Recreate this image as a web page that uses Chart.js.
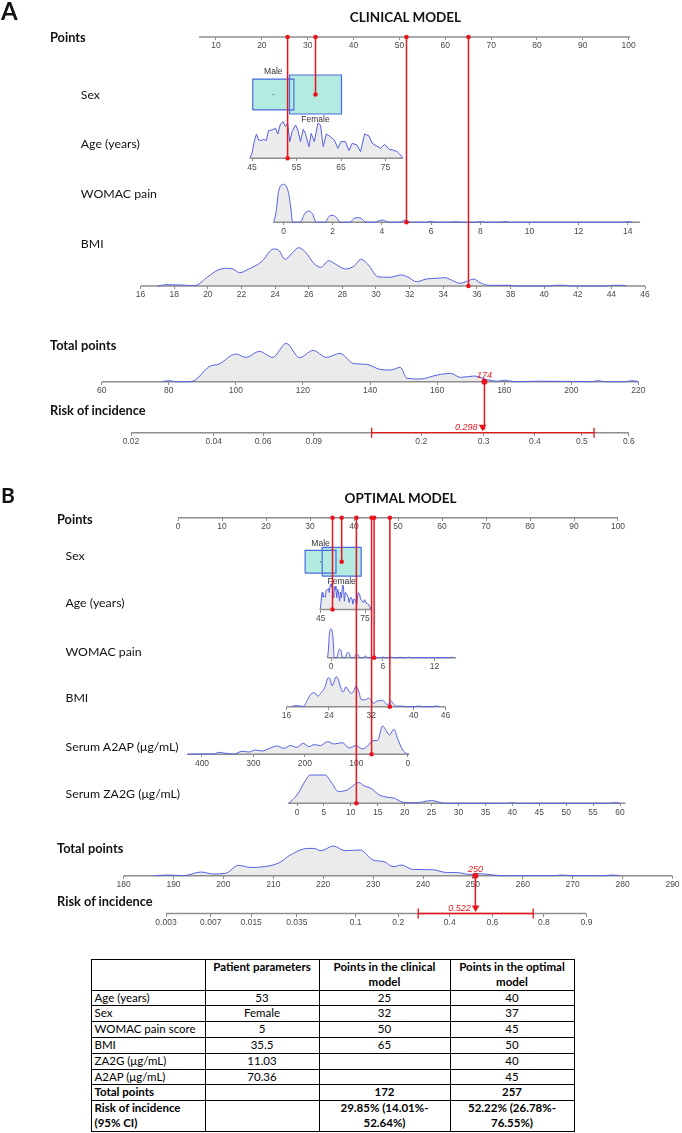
<!DOCTYPE html>
<html lang="en">
<head>
<meta charset="utf-8">
<title>Clinical and optimal model nomograms</title>
<style>
  body { margin: 0; background: #fff; font-family: Lato, 'Open Sans', sans-serif; color: #111; }
  #page { position: relative; width: 682px; height: 1133px; overflow: hidden; }
  #chartBox { position: absolute; left: 0; top: 0; width: 682px; height: 940px; }
  .lbl { position: absolute; white-space: nowrap; line-height: 1; transform: translateY(-50%); }
  .ctr { transform: translate(-50%, -50%); }
  #tbl { position: absolute; left: 90.5px; top: 959px; border-collapse: collapse; table-layout: fixed;
         font-size: 11.5px; color: #000; }
  #tbl td, #tbl th { border: 1px solid #000; padding: 0 3px; line-height: 14.8px; text-align: center; }
  #tbl th { font-weight: 700; vertical-align: top; }
  #tbl td:first-child { text-align: left; }
  #tbl tr.b td { font-weight: 700; }
</style>
</head>
<body>
<div id="page">
  <div id="chartBox"><canvas id="nomo" width="682" height="940"></canvas></div>
  <table id="tbl">
    <colgroup><col style="width:114px"><col style="width:114px"><col style="width:131px"><col style="width:124px"></colgroup>
    <tr><th></th><th>Patient parameters</th><th>Points in the clinical<br>model</th><th>Points in the optimal<br>model</th></tr>
    <tr><td>Age (years)</td><td>53</td><td>25</td><td>40</td></tr>
    <tr><td>Sex</td><td>Female</td><td>32</td><td>37</td></tr>
    <tr><td>WOMAC pain score</td><td>5</td><td>50</td><td>45</td></tr>
    <tr><td>BMI</td><td>35.5</td><td>65</td><td>50</td></tr>
    <tr><td>ZA2G (μg/mL)</td><td>11.03</td><td></td><td>40</td></tr>
    <tr><td>A2AP (μg/mL)</td><td>70.36</td><td></td><td>45</td></tr>
    <tr class="b"><td>Total points</td><td></td><td>172</td><td>257</td></tr>
    <tr class="b"><td>Risk of incidence<br>(95% CI)</td><td></td><td>29.85% (14.01%-<br>52.64%)</td><td>52.22% (26.78%-<br>76.55%)</td></tr>
  </table>
</div>
<script src="https://cdn.jsdelivr.net/npm/chart.js"></script>
<script>
// ---------- data ----------
const sexLabels = ['Male', 'Female'];
const sexShare = [0.385, 0.615];

const patientAge = 53, patientWomac = 5, patientBmi = 35.5, patientA2ap = 70.36, patientZa2g = 11.03;

// points given to the patient (age, sex, WOMAC, BMI [, A2AP, ZA2G])
const clinicalPoints = [25.7, 31.7, 51.7, 65];
const optimalPoints = [35.4, 37.2, 44.7, 48.4, 44.1, 40.7];
const sexPointsA = [22.5, 31.7];
const sexPointsB = [32.4, 37.2];
// predicted risk, lower and upper 95% CI
const clinicalRisk = [0.298, 0.1401, 0.5264];
const optimalRisk = [0.522, 0.2678, 0.7655];

// tick labels
const ptsTicksA = [10, 20, 30, 40, 50, 60, 70, 80, 90, 100];
const ptsTicksB = [0, 10, 20, 30, 40, 50, 60, 70, 80, 90, 100];
const ageTicksA = [45, 55, 65, 75];
const ageTicksB = [45, 75];
const womacTicksA = [0, 2, 4, 6, 8, 10, 12, 14];
const womacTicksB = [0, 6, 12];
const bmiTicksA = [16, 18, 20, 22, 24, 26, 28, 30, 32, 34, 36, 38, 40, 42, 44, 46];
const bmiTicksB = [16, 24, 32, 40, 46];
const a2apTicks = [400, 300, 200, 100, 0];
const za2gTicks = [0, 5, 10, 15, 20, 25, 30, 35, 40, 45, 50, 55, 60];
const totalTicksA = [60, 80, 100, 120, 140, 160, 180, 200, 220];
const totalTicksB = [180, 190, 200, 210, 220, 230, 240, 250, 260, 270, 280, 290];
const riskTicksA = [0.02, 0.04, 0.06, 0.09, 0.2, 0.3, 0.4, 0.5, 0.6];
const riskTicksB = [0.003, 0.007, 0.015, 0.035, 0.1, 0.2, 0.4, 0.6, 0.8, 0.9];

// axis extents
const ptsRangeA = [6.3, 100.3], ptsRangeB = [0, 100];
const ageRange = [44.6, 78.9];
const womacRange = [-0.4, 14.5];
const bmiRange = [16, 46];
const a2apRange = [-3, 428];
const za2gRange = [-1.7, 61];
const totalRangeA = [60, 220], totalRangeB = [180, 290];
const riskRangeA = [0.02, 0.6], riskRangeB = [0.003, 0.9];

// density curves (x, height)
const ageX = [44.5,45,45.5,46,46.5,47,47.6,48.2,48.7,49.5,50.3,50.8,51.4,52,52.5,53,53.5,54,54.8,55.3,55.9,56.5,57,57.8,58.3,59,59.8,60.4,61,61.7,62.6,63.5,64.3,65,66,66.8,67.5,68.6,69.4,70.3,71.3,72,73,73.9,74.8,75.8,76.7,77.6,78.4,78.9];
const ageD = [0,5,16.7,24.3,18.3,17.7,19,17.7,27.7,28.3,30,24.3,34.3,36.7,32,35,16.7,26.7,33.3,28.3,16.7,29,25,11.7,25,16.7,35,33.3,11.7,24.3,21.7,18.3,10,16.7,16.7,7.7,15,13.3,6.7,24.3,22.3,15,12.3,10,14,9,8.3,6.7,3.3,0];
const womacX = [-0.4,-0.3,-0.2,0,0.2,0.3,0.37,0.68,0.85,1.0,1.18,1.33,1.7,1.82,1.97,2.15,2.3,2.7,2.85,3.0,3.18,3.35,3.7,4.0,4.3,4.7,4.95,5.2,5.8,6.0,6.2,6.8,7.0,7.2,7.8,8.0,8.2,8.8,9.0,9.2,13.8,14.0,14.2];
const womacD = [0,10.7,30.7,38,30,14,0,0,8,11.3,8.5,0,0,5,7,5,0,0,3.5,4.7,3.5,0,0,2.3,0,0,2,0,0,1,0,0,0.7,0,0,0.8,0,0,0.8,0,0,0.7,0];
const bmiX = [17.0,17.5,18.5,19.2,20.0,20.6,21.1,21.5,21.9,22.4,23.2,23.9,24.2,24.6,25.0,25.4,25.8,26.3,26.7,27.2,27.6,28.2,28.7,29.1,29.6,30.1,30.8,31.5,31.9,32.4,33.0,33.6,34.1,34.6,35.0,35.6,35.8,36.2,36.7,38.0,38.3,40.4,40.6,41.3,41.5,43.8,44.0,44.7,44.9];
const bmiD = [0,1.3,1,0.3,9.3,16,17.7,17,13.3,16.7,24.3,37,36,26.7,32.7,38.3,34,22.7,18.7,25.3,21.7,17,20,26.7,20,9.3,8.7,11,9,4.3,7,7.7,8.3,5,2.7,6,7,3.3,0.7,0.7,0,0,0.7,0.7,0,0,0.7,0.7,0];
const a2apX = [-2,3,10,20,27,36,42,49,59,68,78,88,101,114,127,143,156,170,182,192,203,216,228,241,254,270,283,296,309,322,338,358,367,377,403,429];
const a2apD = [0,1,4.3,16,25,19.3,23.7,28.3,13.7,13.7,8.3,5.3,8.7,6.3,11.7,10.3,12.7,8.7,9.7,7.7,11,7,8.7,6,8.3,5.7,3.3,4.3,2.3,3,0.3,1.3,2,0.3,0.3,0];
const za2gX = [-1.5,0,1.6,2.4,5.2,6.5,7.7,9.3,11.5,12.5,13.7,15.3,16.9,18.1,19.7,22,25,27.5,39,40,41,58,59,60];
const za2gD = [0,8.3,23,28.3,28.3,20,11.7,13.3,20.7,17.3,15,8.3,6,5,1,0.5,2.7,0,0,0.5,0,0,0.7,0];
const totAX = [78,80,82,86,88,92,95,100,103,107,111,115,119,123,127,131,135,139,143,146,149,151,155,160,164,167,171,175,178,180,182,184,190,200,206,208,210,216,218,220];
const totAD = [0,1,0,0,2,15,17.7,27.7,24.3,30.3,24.3,38.3,24,31.3,24.3,28.3,18.3,17.3,12.3,11.7,14.3,3.3,2.7,6.7,8.3,4.3,5.7,2,0.5,1.5,0.5,0,0.5,0.3,0,1,0,0,1,0];
const totBX = [186,189,192,195.5,198,200.4,203,205.5,208.2,211.2,213.4,216.9,218.2,219.5,222.1,224.3,227.4,230,232.2,234,235.7,237.9,241.9,244.5,247.1,249.3,251.5,254.1,255.9,266,268,270,276,278,279.5];
const totBD = [0,0.7,0,3.7,1.7,2.3,10.3,8.3,9,13,20.7,27.3,27.3,25,29.7,25,25.7,15.7,14,9,10.7,6.3,6,3.3,3,1.3,2,0.7,0,0,0.7,0,0,0.7,0];

// ---------- layout (pixels) ----------
const W = 682, H = 940;
const RED = '#e8161c', BLUE = '#5560e4', AXIS = '#8e8e8e';
const tickFont = { family: "'Liberation Sans Narrow', 'Liberation Sans', Arial, sans-serif", size: 8.5 };

const logit = p => Math.log(p / (1 - p));
const sum = a => a.reduce((s, v) => s + v, 0);

const scales = {};
const datasets = [];

// y scale for one row: value 0 sits on the row baseline, peakVal is peakPx above it
function addRow(id, base, peakPx, peakVal) {
  const u = peakVal / peakPx;
  scales[id] = { type: 'linear', axis: 'y', display: false, bounds: 'data', min: (base - H) * u, max: base * u };
}

// x axis drawn on a row baseline, calibrated by two anchors [v1, px1, v2, px2]
function addAxis(id, yId, anchor, values, labels) {
  const [v1, p1, v2, p2] = anchor;
  const u = (v2 - v1) / (p2 - p1);
  const a = Math.abs(u);
  const reverse = u < 0;
  const min = reverse ? v1 + p1 * a - W * a : v1 - p1 * a;
  scales[id] = {
    type: 'linear', axis: 'x', position: { [yId]: 0 }, reverse, bounds: 'data',
    min, max: min + W * a,
    border: { display: false },
    grid: { drawOnChartArea: false, drawTicks: true, tickLength: 3, tickColor: AXIS, tickWidth: 1 },
    afterBuildTicks: s => { s.ticks = values.map(v => ({ value: v })); },
    ticks: { autoSkip: false, minRotation: 0, maxRotation: 0, padding: 1, color: '#4a4a4a', font: tickFont,
             callback: (v, i) => labels[i] }
  };
}

function axisLine(xId, yId, range) {
  datasets.push({ xAxisID: xId, yAxisID: yId, data: range.map(x => ({ x, y: 0 })),
    borderColor: AXIS, borderWidth: 1.6, fill: false, order: 5 });
}

function density(xId, yId, xs, ds, smooth) {
  datasets.push({ xAxisID: xId, yAxisID: yId, data: xs.map((x, i) => ({ x, y: ds[i] })),
    borderColor: BLUE, borderWidth: 1, backgroundColor: '#ebebeb', fill: 'origin',
    cubicInterpolationMode: smooth ? 'monotone' : 'default', tension: 0, order: 4 });
}

function sexBoxes(xId, yId, centers, boxW, boxH, pxPerPt) {
  sexShare.forEach((sh, i) => {
    const hw = boxW * Math.sqrt(sh) / 2 / pxPerPt, hh = boxH * Math.sqrt(sh) / 2, c = centers[i];
    datasets.push({ xAxisID: xId, yAxisID: yId, data: [{ x: c - hw, y: hh }, { x: c + hw, y: hh }],
      borderWidth: 0, borderColor: 'rgba(0,0,0,0)', backgroundColor: '#b3ebe1', fill: { value: -hh }, order: 3 });
    datasets.push({ xAxisID: xId, yAxisID: yId,
      data: [[-1, -1], [-1, 1], [1, 1], [1, -1], [-1, -1]].map(([sx, sy]) => ({ x: c + sx * hw, y: sy * hh })),
      borderColor: '#4a6ae2', borderWidth: 1.2, fill: false, order: 2 });
  });
}

// ---------- panel A: clinical model ----------
const ptsAnchorA = [10, 216, 100, 628.7];
addRow('yPtsA', 37, 1, 1);
addRow('ySexA', 94.5, 1, 1);
addRow('yAgeA', 158.3, 36.7, Math.max(...ageD));
addRow('yWomA', 222.3, 38, Math.max(...womacD));
addRow('yBmiA', 286, 38.3, Math.max(...bmiD));
addRow('yTotA', 381.7, 38.3, Math.max(...totAD));
addRow('yRiskA', 432.7, 1, 1);
addAxis('xPtsA', 'yPtsA', ptsAnchorA, ptsTicksA, ptsTicksA.map(String));
addAxis('xAgeA', 'yAgeA', [45, 252, 75, 385.5], ageTicksA, ageTicksA.map(String));
addAxis('xWomA', 'yWomA', [0, 283.5, 14, 627.8], womacTicksA, womacTicksA.map(String));
addAxis('xBmiA', 'yBmiA', [16, 140.6, 46, 645], bmiTicksA, bmiTicksA.map(String));
addAxis('xTotA', 'yTotA', [60, 101.7, 220, 638.4], totalTicksA, totalTicksA.map(String));
addAxis('xRiskA', 'yRiskA', [logit(0.02), 131, logit(0.6), 628.8], riskTicksA.map(logit), riskTicksA.map(String));

axisLine('xPtsA', 'yPtsA', ptsRangeA);
axisLine('xAgeA', 'yAgeA', ageRange);
axisLine('xWomA', 'yWomA', womacRange);
axisLine('xBmiA', 'yBmiA', bmiRange);
axisLine('xTotA', 'yTotA', totalRangeA);
axisLine('xRiskA', 'yRiskA', riskRangeA.map(logit));
density('xAgeA', 'yAgeA', ageX, ageD, false);
density('xWomA', 'yWomA', womacX, womacD, true);
density('xBmiA', 'yBmiA', bmiX, bmiD, true);
density('xTotA', 'yTotA', totAX, totAD, true);
sexBoxes('xPtsA', 'ySexA', sexPointsA, 66.3, 49.7, (ptsAnchorA[3] - ptsAnchorA[1]) / (ptsAnchorA[2] - ptsAnchorA[0]));

// ---------- panel B: optimal model ----------
const ptsAnchorB = [0, 178, 100, 618];
addRow('yPtsB', 517.7, 1, 1);
addRow('ySexB', 561.7, 1, 1);
addRow('yAgeB', 609.5, 25.7, Math.max(...ageD));
addRow('yWomB', 657.7, 28.7, Math.max(...womacD));
addRow('yBmiB', 706.7, 30, Math.max(...bmiD));
addRow('yA2apB', 754.3, 28.3, Math.max(...a2apD));
addRow('yZa2gB', 803.3, 28.3, Math.max(...za2gD));
addRow('yTotB', 875.7, 29.7, Math.max(...totBD));
addRow('yRiskB', 913.5, 1, 1);
addAxis('xPtsB', 'yPtsB', ptsAnchorB, ptsTicksB, ptsTicksB.map(String));
addAxis('xAgeB', 'yAgeB', [45, 320.7, 75, 365], ageTicksB, ageTicksB.map(String));
addAxis('xWomB', 'yWomB', [0, 331, 12, 434.5], womacTicksB, womacTicksB.map(String));
addAxis('xBmiB', 'yBmiB', [16, 286.5, 46, 445.5], bmiTicksB, bmiTicksB.map(String));
addAxis('xA2apB', 'yA2apB', [400, 202, 0, 407.8], a2apTicks, a2apTicks.map(String));
addAxis('xZa2gB', 'yZa2gB', [0, 297, 60, 620], za2gTicks, za2gTicks.map(String));
addAxis('xTotB', 'yTotB', [180, 123.6, 290, 672.5], totalTicksB, totalTicksB.map(String));
addAxis('xRiskB', 'yRiskB', [logit(0.003), 166, logit(0.9), 586.5], riskTicksB.map(logit), riskTicksB.map(String));

axisLine('xPtsB', 'yPtsB', ptsRangeB);
axisLine('xAgeB', 'yAgeB', ageRange);
axisLine('xWomB', 'yWomB', womacRange);
axisLine('xBmiB', 'yBmiB', bmiRange);
axisLine('xA2apB', 'yA2apB', a2apRange);
axisLine('xZa2gB', 'yZa2gB', za2gRange);
axisLine('xTotB', 'yTotB', totalRangeB);
axisLine('xRiskB', 'yRiskB', riskRangeB.map(logit));
density('xAgeB', 'yAgeB', ageX, ageD, false);
density('xWomB', 'yWomB', womacX, womacD, true);
density('xBmiB', 'yBmiB', bmiX, bmiD, true);
density('xA2apB', 'yA2apB', a2apX, a2apD, true);
density('xZa2gB', 'yZa2gB', za2gX, za2gD, true);
density('xTotB', 'yTotB', totBX, totBD, true);
sexBoxes('xPtsB', 'ySexB', sexPointsB, 49.7, 36.6, (ptsAnchorB[3] - ptsAnchorB[1]) / (ptsAnchorB[2] - ptsAnchorB[0]));

const panels = [
  { ptsX: 'xPtsA', ptsY: 'yPtsA', sexY: 'ySexA', sexPts: sexPointsA, boxH: 49.7,
    vars: [['xAgeA', 'yAgeA', patientAge], ['xWomA', 'yWomA', patientWomac], ['xBmiA', 'yBmiA', patientBmi]],
    totX: 'xTotA', totY: 'yTotA', total: sum(clinicalPoints), riskX: 'xRiskA', riskY: 'yRiskA', risk: clinicalRisk },
  { ptsX: 'xPtsB', ptsY: 'yPtsB', sexY: 'ySexB', sexPts: sexPointsB, boxH: 36.6,
    vars: [['xAgeB', 'yAgeB', patientAge], ['xWomB', 'yWomB', patientWomac], ['xBmiB', 'yBmiB', patientBmi],
           ['xA2apB', 'yA2apB', patientA2ap], ['xZa2gB', 'yZa2gB', patientZa2g]],
    totX: 'xTotB', totY: 'yTotB', total: sum(optimalPoints), riskX: 'xRiskB', riskY: 'yRiskB', risk: optimalRisk }
];

// red patient lines, sex labels and risk marks, all placed through the chart scales
const patientPlugin = {
  id: 'patient',
  afterDatasetsDraw(chart) {
    const s = chart.scales, ctx = chart.ctx;
    const dot = (x, y, r) => { ctx.beginPath(); ctx.arc(x, y, r, 0, Math.PI * 2); ctx.fill(); };
    const seg = (x1, y1, x2, y2) => { ctx.beginPath(); ctx.moveTo(x1, y1); ctx.lineTo(x2, y2); ctx.stroke(); };
    ctx.save();
    for (const p of panels) {
      // category labels of the sex boxes
      ctx.fillStyle = '#333';
      ctx.font = "8.5px 'Liberation Sans Narrow', 'Liberation Sans', Arial";
      ctx.textAlign = 'center'; ctx.textBaseline = 'middle';
      const hm = p.boxH * Math.sqrt(sexShare[0]) / 2, hf = p.boxH * Math.sqrt(sexShare[1]) / 2;
      ctx.fillText(sexLabels[0], s[p.ptsX].getPixelForValue(p.sexPts[0]), s[p.sexY].getPixelForValue(hm) - 7);
      ctx.fillText(sexLabels[1], s[p.ptsX].getPixelForValue(p.sexPts[1]), s[p.sexY].getPixelForValue(-hf) + 6);
      ctx.fillStyle = '#3c8c7c';
      dot(s[p.ptsX].getPixelForValue(p.sexPts[0]), s[p.sexY].getPixelForValue(0), 0.8);

      ctx.strokeStyle = RED; ctx.fillStyle = RED; ctx.lineWidth = 1.5;
      const y0 = s[p.ptsY].getPixelForValue(0);
      const xs = s[p.ptsX].getPixelForValue(p.sexPts[1]), ys = s[p.sexY].getPixelForValue(0);
      seg(xs, y0, xs, ys); dot(xs, y0, 2.3); dot(xs, ys, 2.3);
      for (const [xId, yId, v] of p.vars) {
        const x = s[xId].getPixelForValue(v), y1 = s[yId].getPixelForValue(0);
        seg(x, y0, x, y1); dot(x, y0, 2.3); dot(x, y1, 2.3);
      }
      // total points -> risk
      const xt = s[p.totX].getPixelForValue(p.total), yt = s[p.totY].getPixelForValue(0);
      const xr = s[p.riskX].getPixelForValue(logit(p.risk[0])), yr = s[p.riskY].getPixelForValue(0);
      seg(xt, yt, xt, yr - 3); dot(xt, yt, 3);
      const xlo = s[p.riskX].getPixelForValue(logit(p.risk[1])), xhi = s[p.riskX].getPixelForValue(logit(p.risk[2]));
      ctx.lineWidth = 1.3;
      seg(xlo, yr, xhi, yr); seg(xlo, yr - 5, xlo, yr + 5); seg(xhi, yr - 5, xhi, yr + 5);
      ctx.beginPath(); ctx.moveTo(xr - 3.8, yr - 8); ctx.lineTo(xr + 3.8, yr - 8); ctx.lineTo(xr, yr - 1.5);
      ctx.closePath(); ctx.fill();
      ctx.font = "italic 9px 'Liberation Sans', Arial";
      ctx.textAlign = 'center'; ctx.textBaseline = 'alphabetic';
      ctx.fillText(String(Math.floor(p.total)), xt, yt - 3.5);
      ctx.textAlign = 'right'; ctx.textBaseline = 'middle';
      ctx.fillText(p.risk[0].toFixed(3), xr - 5, yr - 5.5);
    }
    ctx.restore();
  }
};

new Chart(document.getElementById('nomo'), {
  type: 'line',
  data: { datasets },
  options: {
    responsive: false, animation: false, devicePixelRatio: 1, events: [],
    layout: { padding: 0 },
    elements: { point: { radius: 0 }, line: { tension: 0 } },
    plugins: { legend: { display: false }, tooltip: { enabled: false }, filler: { drawTime: 'beforeDatasetsDraw' } },
    scales
  },
  plugins: [patientPlugin]
});

// ---------- text labels ----------
const textLabels = [
  ['A', 1, 11, 700, 24, false], ['CLINICAL MODEL', 405.5, 17.5, 700, 13.5, true],
  ['Points', 50, 37, 700, 12.8, false], ['Sex', 80.8, 95, 400, 12.3, false],
  ['Age (years)', 80.8, 144, 400, 12.3, false], ['WOMAC pain', 80.8, 193.7, 400, 12.3, false],
  ['BMI', 80.8, 244, 400, 12.3, false], ['Total points', 50, 345, 700, 12.8, false],
  ['Risk of incidence', 50, 410, 700, 12.8, false],
  ['B', 1, 494, 700, 21, false], ['OPTIMAL MODEL', 400.6, 499, 700, 13.5, true],
  ['Points', 57, 519, 700, 12.8, false], ['Sex', 65.5, 556, 400, 12.3, false],
  ['Age (years)', 65.5, 603.3, 400, 12.3, false], ['WOMAC pain', 65.5, 651.7, 400, 12.3, false],
  ['BMI', 65.5, 698, 400, 12.3, false], ['Serum A2AP (μg/mL)', 65.5, 746.7, 400, 12.3, false],
  ['Serum ZA2G (μg/mL)', 65.5, 794.3, 400, 12.3, false], ['Total points', 57, 848, 700, 12.8, false],
  ['Risk of incidence', 57, 900.7, 700, 12.8, false]
];
const page = document.getElementById('page');
for (const [t, x, y, wt, size, centred] of textLabels) {
  const d = document.createElement('div');
  d.className = centred ? 'lbl ctr' : 'lbl';
  d.textContent = t;
  d.style.left = x + 'px'; d.style.top = y + 'px';
  d.style.fontWeight = wt; d.style.fontSize = size + 'px';
  page.appendChild(d);
}
</script>
</body>
</html>
